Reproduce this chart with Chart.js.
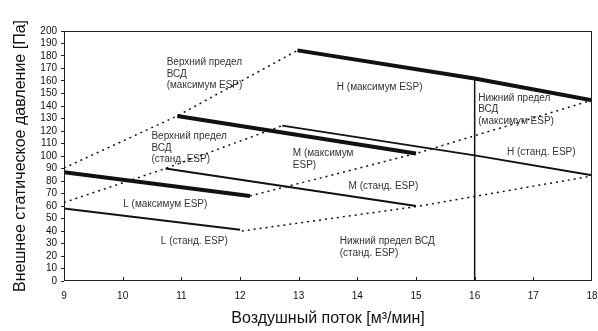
<!DOCTYPE html>
<html lang="ru">
<head>
<meta charset="utf-8">
<script src="https://cdn.jsdelivr.net/npm/chart.js@4.4.0/dist/chart.umd.min.js"></script>
<style>
    html, body { margin: 0; padding: 0; background: #fff; overflow: hidden; }
    #wrap { width: 598px; height: 331px; }
</style>
</head>
<body>
<div id="wrap"><canvas id="grafico"></canvas></div>
<script>
// расход воздуха (м3/мин) и давление (Па) для каждой линии
const lMaxFlow = [9, 12.17];
const lMaxPressure = [87, 68];
const lStdFlow = [9, 12];
const lStdPressure = [58, 41];
const mMaxFlow = [10.93, 15];
const mMaxPressure = [132, 102];
const mStdFlow = [10.73, 15];
const mStdPressure = [90, 60];
const hMaxFlow = [12.98, 16, 18];
const hMaxPressure = [184.5, 162, 144.6];
const hStdFlow = [12.72, 16, 18];
const hStdPressure = [124.3, 100.5, 84.5];

// пределы ВСД (пунктир)
const upperMaxFlow = [9, 10.93, 12.98];
const upperMaxPressure = [90.4, 132, 184.5];
const upperStdFlow = [9, 10.73, 12.72];
const upperStdPressure = [62.8, 90, 124.3];
const lowerMaxFlow = [12.17, 15, 18];
const lowerMaxPressure = [68, 102, 144.6];
const lowerStdFlow = [12.03, 15, 18];
const lowerStdPressure = [40, 59.5, 84];

const limitFlow = [16, 16];
const limitPressure = [0, 162];

// подписи (в координатах данных)
const notes = [
    { text: ["Верхний предел", "ВСД", "(максимум ESP)"], x: 10.75, y: 175.1 },
    { text: ["Верхний предел", "ВСД", "(станд. ESP)"], x: 10.49, y: 115.8 },
    { text: ["H (максимум ESP)"], x: 13.65, y: 155.4 },
    { text: ["Нижний предел", "ВСД", "(максимум ESP)"], x: 16.06, y: 146.6 },
    { text: ["H (станд. ESP)"], x: 16.55, y: 102.9 },
    { text: ["M (максимум", "ESP)"], x: 12.9, y: 101.9 },
    { text: ["M (станд. ESP)"], x: 13.85, y: 76.2 },
    { text: ["L (максимум ESP)"], x: 10.01, y: 61.5 },
    { text: ["L (станд. ESP)"], x: 10.65, y: 31.5 },
    { text: ["Нижний предел ВСД", "(станд. ESP)"], x: 13.7, y: 31.5 }
];

const FONT = "'Liberation Sans', Arial, sans-serif";

function pontos(xs, ys) {
    return xs.map((x, i) => ({ x: x, y: ys[i] }));
}

function linha(xs, ys, width, dashed) {
    return {
        data: pontos(xs, ys),
        showLine: true,
        borderColor: "#111",
        borderWidth: width,
        borderDash: dashed ? [2, 4] : [],
        pointRadius: 0,
        fill: false,
        tension: 0
    };
}

const extras = {
    id: "extras",
    beforeDatasetsDraw(chart) {
        const { ctx, scales: { x, y } } = chart;
        ctx.save();
        ctx.fillStyle = "#333";
        ctx.font = "10px " + FONT;
        ctx.textBaseline = "middle";
        notes.forEach(n => {
            n.text.forEach((t, i) => {
                ctx.fillText(t, x.getPixelForValue(n.x), y.getPixelForValue(n.y) + i * 11.7);
            });
        });
        ctx.restore();
    },
    afterDatasetsDraw(chart) {
        const { ctx, chartArea: a, scales: { x } } = chart;
        ctx.save();
        ctx.strokeStyle = "#222";
        ctx.lineWidth = 1;
        ctx.strokeRect(a.left + 0.5, a.top + 0.5, a.right - a.left - 1, a.bottom - a.top - 1);
        ctx.beginPath();
        for (let v = 10; v < 18; v++) {
            const px = Math.round(x.getPixelForValue(v)) + 0.5;
            ctx.moveTo(px, a.bottom);
            ctx.lineTo(px, a.bottom - 4);
        }
        ctx.stroke();
        ctx.restore();
    }
};

new Chart(document.getElementById("grafico"), {
    type: "scatter",
    data: {
        datasets: [
            linha(upperMaxFlow, upperMaxPressure, 1.5, true),
            linha(upperStdFlow, upperStdPressure, 1.5, true),
            linha(lowerMaxFlow, lowerMaxPressure, 1.5, true),
            linha(lowerStdFlow, lowerStdPressure, 1.5, true),
            linha(limitFlow, limitPressure, 1.5, false),
            linha(lStdFlow, lStdPressure, 2, false),
            linha(mStdFlow, mStdPressure, 2, false),
            linha(hStdFlow, hStdPressure, 2, false),
            linha(lMaxFlow, lMaxPressure, 4, false),
            linha(mMaxFlow, mMaxPressure, 4, false),
            linha(hMaxFlow, hMaxPressure, 4, false)
        ]
    },
    options: {
        responsive: true,
        maintainAspectRatio: false,
        animation: false,
        layout: { padding: { top: 31, right: 6, left: 0, bottom: 0 } },
        plugins: {
            legend: { display: false },
            tooltip: { enabled: false }
        },
        scales: {
            x: {
                type: "linear",
                min: 9,
                max: 18,
                afterFit: (scale) => {
                    scale.height = 50;
                    scale.paddingLeft = 0;
                    scale.paddingRight = 0;
                },
                ticks: { stepSize: 1, autoSkip: false, color: "#111", padding: 9, font: { family: FONT, size: 10 } },
                grid: { drawOnChartArea: false, drawTicks: false },
                border: { display: false },
                title: {
                    display: true,
                    text: "Воздушный поток [м³/мин]",
                    color: "#111",
                    font: { family: FONT, size: 16 },
                    padding: { bottom: 3 }
                }
            },
            y: {
                min: 0,
                max: 200,
                afterFit: (scale) => { scale.width = 64; },
                ticks: { stepSize: 10, autoSkip: false, color: "#111", padding: 4, font: { family: FONT, size: 10 } },
                grid: { drawOnChartArea: false, tickLength: 3, color: "#222" },
                border: { display: false },
                title: {
                    display: true,
                    text: "Внешнее статическое давление [Па]",
                    color: "#111",
                    font: { family: FONT, size: 16 },
                    padding: { top: 11 }
                }
            }
        }
    },
    plugins: [extras]
});
</script>
</body>
</html>
